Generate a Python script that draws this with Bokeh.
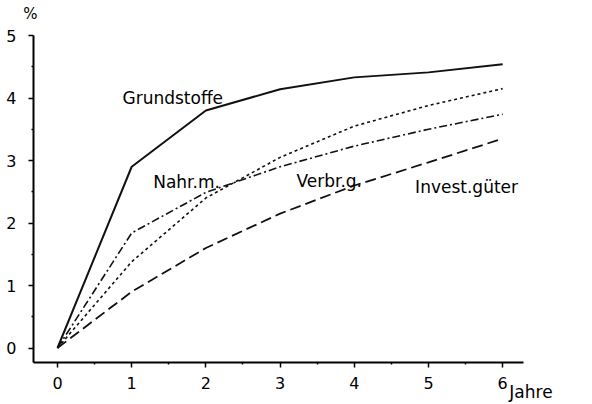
from bokeh.plotting import figure
from bokeh.models import Range1d, Label, FixedTicker
from bokeh.embed import file_html
from bokeh.resources import INLINE

years = [0, 1, 2, 3, 4, 5, 6]
grundstoffe = [0, 2.9, 3.8, 4.14, 4.33, 4.41, 4.54]
nahrungsmittel = [0, 1.84, 2.49, 2.9, 3.23, 3.5, 3.74]
verbrauchsgueter = [0, 1.38, 2.4, 3.05, 3.55, 3.88, 4.15]
investitionsgueter = [0, 0.9, 1.6, 2.15, 2.6, 2.97, 3.35]
x_ticks = [0, 1, 2, 3, 4, 5, 6]
y_ticks = [0, 1, 2, 3, 4, 5]
series_names = ["Grundstoffe", "Nahr.m.", "Verbr.g.", "Invest.güter"]
y_unit = "%"
x_unit = "Jahre"

FONT = "DejaVu Sans"

# axis placement (data units)
X_AXIS_AT = -0.232
Y_AXIS_AT = -0.323

p = figure(width=576, height=404, output_backend="svg", toolbar_location=None,
           x_range=Range1d(-0.768, 6.995), y_range=Range1d(-0.904, 5.56),
           min_border=0)
p.outline_line_color = None
p.xgrid.visible = False
p.ygrid.visible = False

for ax, ticks in ((p.xaxis, x_ticks), (p.yaxis, y_ticks)):
    ax.ticker = FixedTicker(ticks=ticks,
                            minor_ticks=[t + 0.5 for t in ticks[:-1]])
    ax.axis_line_width = 2
    ax.axis_line_color = "black"
    ax.major_tick_line_width = 1.5
    ax.major_tick_out = 5
    ax.major_tick_in = 0
    ax.minor_tick_out = 2
    ax.minor_tick_in = 0
    ax.minor_tick_line_width = 1.5
    ax.major_label_text_font = FONT
    ax.major_label_text_font_size = "16px"
    ax.major_label_text_color = "black"

p.xaxis.fixed_location = X_AXIS_AT
p.xaxis.bounds = (Y_AXIS_AT, 6.28)
p.yaxis.fixed_location = Y_AXIS_AT
p.yaxis.bounds = (X_AXIS_AT, 5.0)
p.xaxis.major_label_standoff = 9
p.yaxis.major_label_standoff = 12

lc = "#111111"
p.line(years, grundstoffe, line_color=lc, line_width=2)
p.line(years, nahrungsmittel, line_color=lc, line_width=1.6, line_dash="8 3 2 3")
p.line(years, verbrauchsgueter, line_color=lc, line_width=1.6, line_dash="3 3")
p.line(years, investitionsgueter, line_color=lc, line_width=1.8, line_dash="11 5")

label_pos = [(0.876, 4.0), (1.29, 2.65), (3.22, 2.68), (4.82, 2.58)]
for name, (lx, ly) in zip(series_names, label_pos):
    p.add_layout(Label(x=lx, y=ly, text=name, text_font=FONT,
                       text_font_size="17px", text_baseline="middle",
                       text_align="left", text_color="black"))

p.add_layout(Label(x=-0.364, y=5.34, text=y_unit, text_font=FONT,
                   text_font_size="15px", text_baseline="middle",
                   text_align="center", text_color="black"))
p.add_layout(Label(x=6.09, y=-0.70, text=x_unit, text_font=FONT,
                   text_font_size="17px", text_baseline="middle",
                   text_align="left", text_color="black"))

open("out.html", "w").write(file_html(p, INLINE))
